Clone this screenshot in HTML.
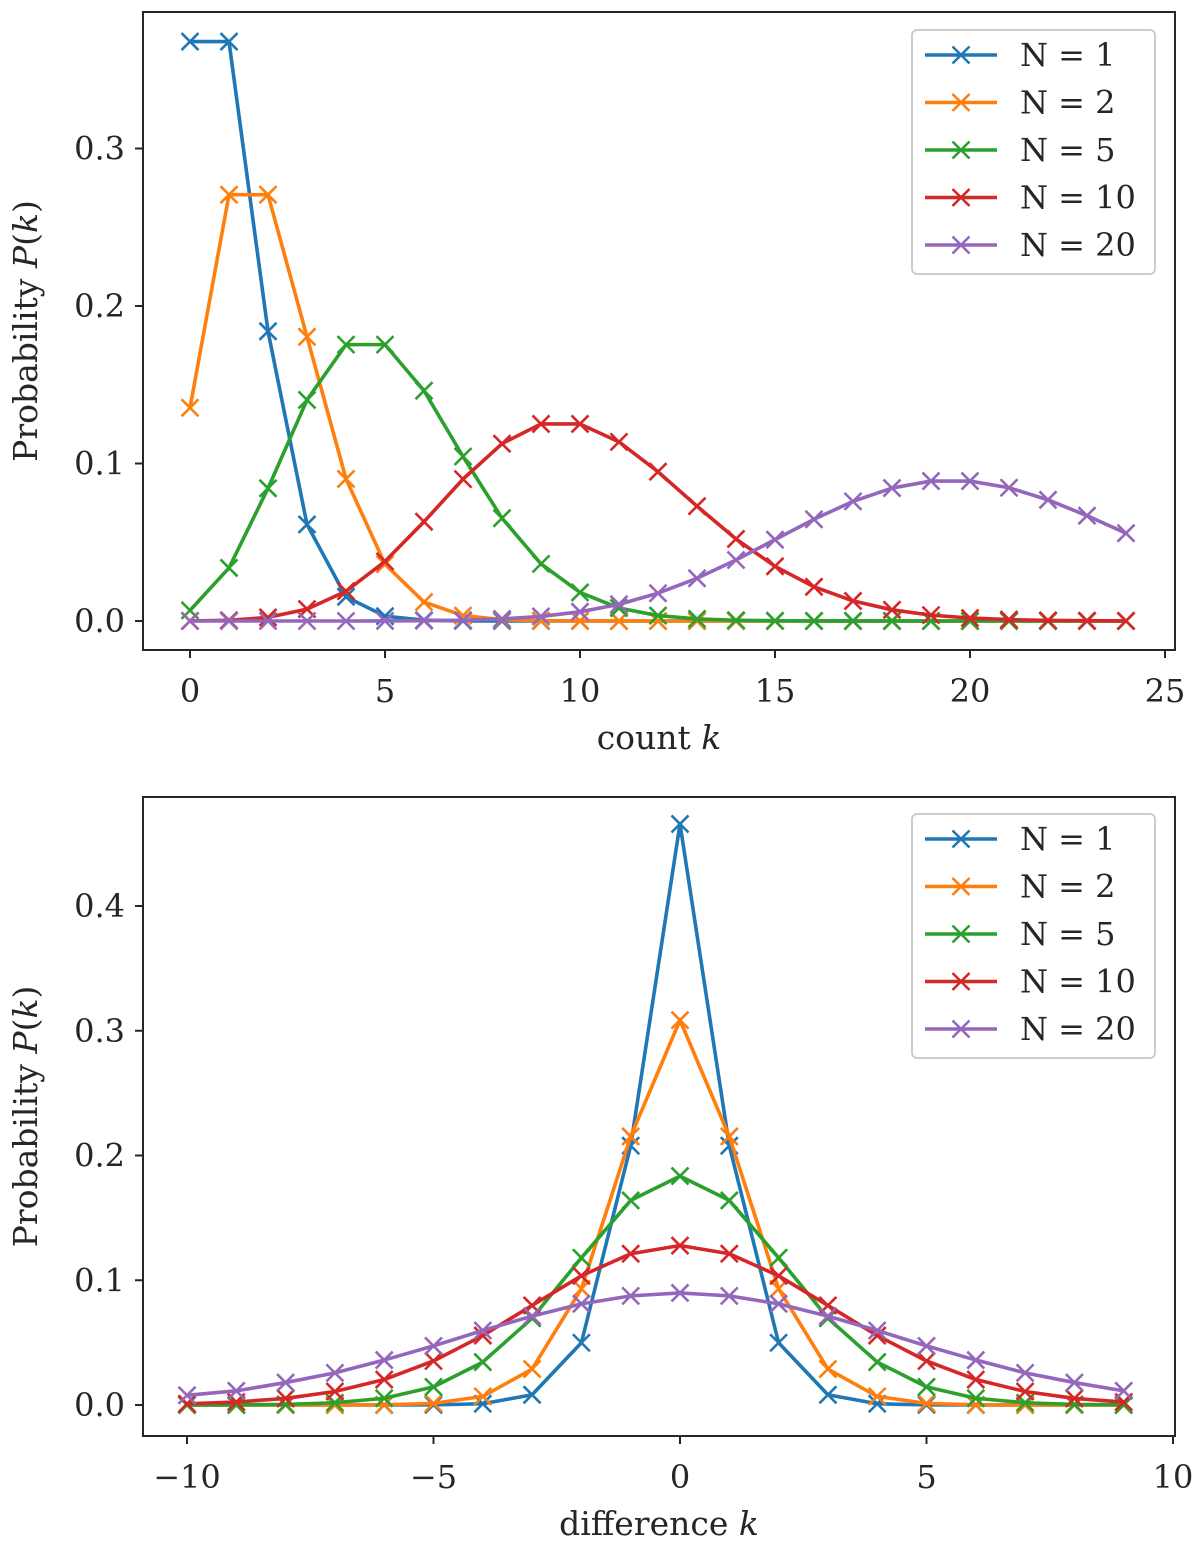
<!DOCTYPE html>
<html><head><meta charset="utf-8"><style>
body{margin:0;background:#fff}
svg text{font-family:"DejaVu Serif","Liberation Serif",serif;fill:#262626}
</style></head><body>
<svg id="fig" width="1200" height="1544" viewBox="0 0 1200 1544" xmlns="http://www.w3.org/2000/svg"></svg>
<script>
const seriesNames=["N = 1","N = 2","N = 5","N = 10","N = 20"];
const colors=["#1f77b4","#ff7f0e","#2ca02c","#d62728","#9467bd"];
const countK=[0,1,2,3,4,5,6,7,8,9,10,11,12,13,14,15,16,17,18,19,20,21,22,23,24];
const poisN1=[.36788,.36788,.18394,.06131,.01533,.00307,.00051,.00007,.00001,0,0,0,0,0,0,0,0,0,0,0,0,0,0,0,0];
const poisN2=[.13534,.27067,.27067,.18045,.09022,.03609,.01203,.00344,.00086,.00019,.00004,.00001,0,0,0,0,0,0,0,0,0,0,0,0,0];
const poisN5=[.00674,.03369,.08422,.14037,.17547,.17547,.14622,.10444,.06528,.03627,.01813,.00824,.00343,.00132,.00047,.00016,.00005,.00002,0,0,0,0,0,0,0];
const poisN10=[.00005,.00045,.00227,.00757,.01892,.03783,.06306,.09008,.11260,.12511,.12511,.11374,.09478,.07291,.05208,.03472,.02170,.01276,.00709,.00373,.00187,.00089,.00040,.00018,.00007];
const poisN20=[0,0,0,0,0,.00005,.00018,.00052,.00131,.00291,.00582,.01058,.01763,.02712,.03874,.05165,.06457,.07596,.08440,.08884,.08884,.08461,.07692,.06688,.05573];
const diffK=[-10,-9,-8,-7,-6,-5,-4,-3,-2,-1,0,1,2,3,4,5,6,7,8,9];
const skN1=[0,0,0,0,0,.0001,.0010,.0082,.0499,.2079,.4658,.2079,.0499,.0082,.0010,.0001,0,0,0,0];
const skN2=[0,0,0,0,.0002,.0013,.0069,.0288,.0932,.2153,.3085,.2153,.0932,.0288,.0069,.0013,.0002,0,0,0];
const skN5=[.00003,.00013,.0005,.0018,.0054,.0145,.0344,.0696,.1180,.1640,.1835,.1640,.1180,.0696,.0344,.0145,.0054,.0018,.0005,.00013];
const skN10=[.00099,.00238,.00527,.01081,.02040,.03528,.05568,.07983,.10358,.12126,.12783,.12126,.10358,.07983,.05568,.03528,.02040,.01081,.00527,.00238];
const skN20=[.00779,.01135,.01800,.02575,.03603,.04737,.05971,.07125,.08108,.08747,.08983,.08747,.08108,.07125,.05971,.04737,.03603,.02575,.01800,.01135];
const topXTicks=[0,5,10,15,20,25];
const topYTicks=[0,0.1,0.2,0.3];
const botXTicks=[-10,-5,0,5,10];
const botYTicks=[0,0.1,0.2,0.3,0.4];

const NS="http://www.w3.org/2000/svg";
const svg=document.getElementById('fig');
function mk(tag,attrs,parent){const e=document.createElementNS(NS,tag);for(const k in attrs)e.setAttribute(k,attrs[k]);(parent||svg).appendChild(e);return e;}
function fmtX(v){return v<0?"\u2212"+(-v):""+v;}

function panel(cfg){
  const g=mk('g',{});
  
  
  const X=v=>cfg.x0+(v-cfg.xa)*cfg.xs;
  const Y=v=>cfg.y0-v*cfg.ys;
  cfg.series.forEach((arr,i)=>{
    const sg=mk('g',{},g);
    
    
    const pts=arr.map((v,j)=>X(cfg.xs_data[j]).toFixed(2)+","+Y(v).toFixed(2)).join(" ");
    const pl=mk('polyline',{points:pts,fill:'none',stroke:colors[i],'stroke-width':3.6,'stroke-linejoin':'round'},sg);
    
    
    arr.forEach((v,j)=>{
      const cx=X(cfg.xs_data[j]),cy=Y(v),s=8.5;
      const m=mk('path',{d:`M${cx-s},${cy-s}L${cx+s},${cy+s}M${cx-s},${cy+s}L${cx+s},${cy-s}`,stroke:colors[i],'stroke-width':2.6},sg);
      
      
    });
  });
  const fr=mk('rect',{x:cfg.L,y:cfg.T,width:cfg.R-cfg.L,height:cfg.B-cfg.T,fill:'none',stroke:'#262626','stroke-width':2},g);
  
  
  cfg.xticks.forEach(v=>{
    const x=X(v);
    mk('line',{x1:x,x2:x,y1:cfg.B,y2:cfg.B+8,stroke:'#262626','stroke-width':2},g);
    const t=mk('text',{x:x,y:cfg.B+52,'font-size':32,'text-anchor':'middle'},g);
    t.textContent=fmtX(v);
    
    
  });
  cfg.yticks.forEach(v=>{
    const y=Y(v);
    mk('line',{x1:cfg.L-8,x2:cfg.L,y1:y,y2:y,stroke:'#262626','stroke-width':2},g);
    const t=mk('text',{x:cfg.L-18,y:y+11,'font-size':32,'text-anchor':'end'},g);
    t.textContent=v.toFixed(1);
    
    
  });
  const xl=mk('text',{x:(cfg.L+cfg.R)/2,y:cfg.B+99,'font-size':33,'text-anchor':'middle'},g);
  xl.innerHTML=cfg.xlabel+' <tspan font-style="italic">k</tspan>';
  
  
  const yc=(cfg.T+cfg.B)/2;
  const yl=mk('text',{x:0,y:0,'font-size':33,'text-anchor':'middle',transform:`translate(37,${yc}) rotate(-90)`},g);
  yl.innerHTML='Probability <tspan font-style="italic">P</tspan>(<tspan font-style="italic">k</tspan>)';
  
  
  const lg=mk('g',{},g);
  
  
  mk('rect',{x:912,y:cfg.LT,width:243,height:244,rx:5,fill:'#fff','fill-opacity':0.85,stroke:'#ccc','stroke-width':2},lg);
  seriesNames.forEach((n,i)=>{
    const y=cfg.LT+25+i*47.5;
    const eg=mk('g',{},lg);
    
    
    mk('line',{x1:925,x2:997,y1:y,y2:y,stroke:colors[i],'stroke-width':3.6},eg);
    mk('path',{d:`M${961-8.5},${y-8.5}L${961+8.5},${y+8.5}M${961-8.5},${y+8.5}L${961+8.5},${y-8.5}`,stroke:colors[i],'stroke-width':2.6},eg);
    const t=mk('text',{x:1020,y:y+11,'font-size':32},eg);
    t.textContent=n;
  });
}
panel({name:'top-panel',L:143,R:1175,T:12,B:650,x0:190,xa:0,xs:39,y0:621,ys:1575,
  xs_data:countK,series:[poisN1,poisN2,poisN5,poisN10,poisN20],xticks:topXTicks,yticks:topYTicks,xlabel:'count',LT:30});
panel({name:'bottom-panel',L:143,R:1175,T:797,B:1436,x0:680,xa:0,xs:49.3,y0:1405,ys:1247.5,
  xs_data:diffK,series:[skN1,skN2,skN5,skN10,skN20],xticks:botXTicks,yticks:botYTicks,xlabel:'difference',LT:814});
</script>
</body></html>
